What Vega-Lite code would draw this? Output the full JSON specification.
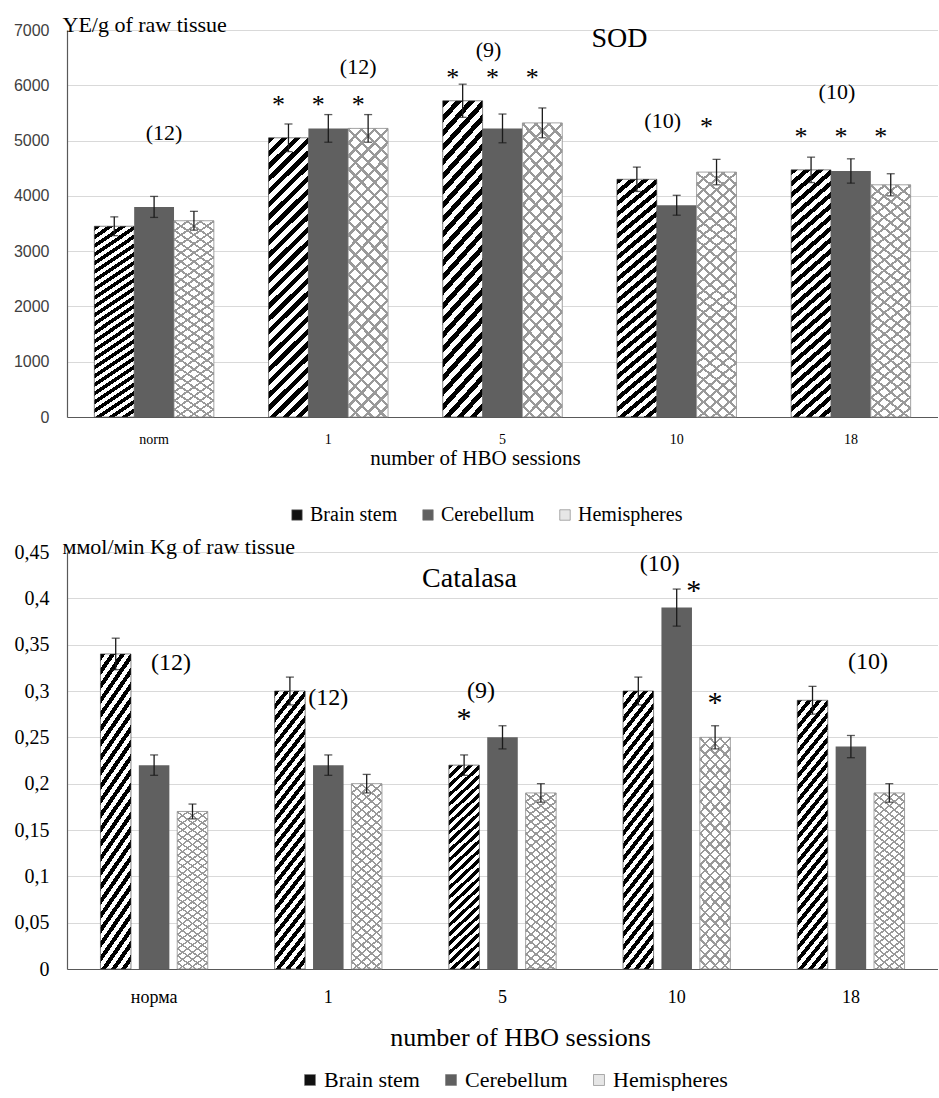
{
"$schema":"https://vega.github.io/schema/vega-lite/v6.json",
"background":"white",
"padding":{"left":7,"top":13,"right":0,"bottom":0},
"datasets":{
"sod":[
{"session":"norm","series":"Brain stem","value":3450,"lo":3280,"hi":3620},
{"session":"norm","series":"Cerebellum","value":3800,"lo":3610,"hi":3990},
{"session":"norm","series":"Hemispheres","value":3550,"lo":3380,"hi":3720},
{"session":"1","series":"Brain stem","value":5050,"lo":4800,"hi":5300},
{"session":"1","series":"Cerebellum","value":5220,"lo":4970,"hi":5470},
{"session":"1","series":"Hemispheres","value":5220,"lo":4970,"hi":5470},
{"session":"5","series":"Brain stem","value":5720,"lo":5420,"hi":6020},
{"session":"5","series":"Cerebellum","value":5220,"lo":4960,"hi":5480},
{"session":"5","series":"Hemispheres","value":5320,"lo":5050,"hi":5590},
{"session":"10","series":"Brain stem","value":4300,"lo":4080,"hi":4520},
{"session":"10","series":"Cerebellum","value":3830,"lo":3650,"hi":4010},
{"session":"10","series":"Hemispheres","value":4430,"lo":4200,"hi":4660},
{"session":"18","series":"Brain stem","value":4470,"lo":4240,"hi":4700},
{"session":"18","series":"Cerebellum","value":4450,"lo":4230,"hi":4670},
{"session":"18","series":"Hemispheres","value":4200,"lo":4000,"hi":4400}
],
"cat":[
{"session":"норма","series":"Brain stem","value":0.34,"lo":0.323,"hi":0.357},
{"session":"норма","series":"Cerebellum","value":0.22,"lo":0.209,"hi":0.231},
{"session":"норма","series":"Hemispheres","value":0.17,"lo":0.162,"hi":0.178},
{"session":"1","series":"Brain stem","value":0.30,"lo":0.285,"hi":0.315},
{"session":"1","series":"Cerebellum","value":0.22,"lo":0.209,"hi":0.231},
{"session":"1","series":"Hemispheres","value":0.20,"lo":0.19,"hi":0.21},
{"session":"5","series":"Brain stem","value":0.22,"lo":0.209,"hi":0.231},
{"session":"5","series":"Cerebellum","value":0.25,"lo":0.2375,"hi":0.2625},
{"session":"5","series":"Hemispheres","value":0.19,"lo":0.18,"hi":0.20},
{"session":"10","series":"Brain stem","value":0.30,"lo":0.285,"hi":0.315},
{"session":"10","series":"Cerebellum","value":0.39,"lo":0.37,"hi":0.41},
{"session":"10","series":"Hemispheres","value":0.25,"lo":0.2375,"hi":0.2625},
{"session":"18","series":"Brain stem","value":0.29,"lo":0.275,"hi":0.305},
{"session":"18","series":"Cerebellum","value":0.24,"lo":0.228,"hi":0.252},
{"session":"18","series":"Hemispheres","value":0.19,"lo":0.18,"hi":0.20}
],
"sodA":[
{"session":"1","over":"Brain stem","y":5640,"label":"*"},
{"session":"1","over":"Cerebellum","y":5640,"label":"*"},
{"session":"1","over":"Hemispheres","y":5640,"label":"*"},
{"session":"5","over":"Brain stem","y":6130,"label":"*"},
{"session":"5","over":"Cerebellum","y":6130,"label":"*"},
{"session":"5","over":"Hemispheres","y":6130,"label":"*"},
{"session":"10","over":"Hemispheres","y":5240,"label":"*"},
{"session":"18","over":"Brain stem","y":5060,"label":"*"},
{"session":"18","over":"Cerebellum","y":5060,"label":"*"},
{"session":"18","over":"Hemispheres","y":5060,"label":"*"},
{"session":"1","over":"Hemispheres","y":6330,"label":"(12)"}
],
"sodB":[
{"session":"norm","over":"Cerebellum","y":5135,"label":"(12)"}
],
"sodC":[
{"session":"5","over":"Cerebellum","y":6640,"label":"(9)"},
{"session":"10","over":"Cerebellum","y":5350,"label":"(10)"},
{"session":"18","over":"Cerebellum","y":5877,"label":"(10)"}
],
"catA":[
{"session":"1","over":"Cerebellum","y":0.292,"label":"(12)"},
{"session":"5","over":"Brain stem","y":0.27,"label":"*"},
{"session":"10","over":"Hemispheres","y":0.287,"label":"*"}
],
"catB":[
{"session":"норма","over":"Cerebellum","y":0.33,"label":"(12)"},
{"session":"10","over":"Cerebellum","y":0.408,"label":"*"},
{"session":"5","over":"Brain stem","y":0.30,"label":"(9)"},
{"session":"18","over":"Cerebellum","y":0.331,"label":"(10)"}
],
"catC":[
{"session":"10","over":"Cerebellum","y":0.4375,"label":"(10)"}
]
},
"vconcat":[
{
"width":871,"height":387,
"data":{"name":"sod"},
"title":{"text":"SOD","font":"Liberation Serif, serif","fontSize":28,"fontWeight":"normal","color":"#000","anchor":"middle","frame":"group","offset":-62,"dx":117,"baseline":"alphabetic"},
"encoding":{
"x":{"field":"session","type":"nominal","scale":{"domain":["norm","1","5","10","18"],"paddingInner":0.314,"paddingOuter":0.157},
"axis":{"title":"number of HBO sessions","titleFont":"Liberation Serif, serif","titleFontSize":21,"titleFontWeight":"normal","titleColor":"#000","titleX":408,"titleY":41,"titleBaseline":"middle","titleAlign":"center","labelFont":"Liberation Serif, serif","labelFontSize":14,"labelColor":"#000","labelAngle":0,"labelPadding":15,"ticks":false,"domainColor":"#595959","domainWidth":1.2,"grid":false}},
"xOffset":{"field":"series","type":"nominal","scale":{"domain":["Brain stem","Cerebellum","Hemispheres"],"paddingInner":0,"paddingOuter":0}}
},
"layer":[
{"transform":[{"filter":"datum.series==='Brain stem'"}],
"mark":{"type":"bar","stroke":"#333","strokeWidth":0.6,"fill":{"gradient":"linear","x1":0,"y1":0,"x2":0.1565,"y2":1.118,"stops":[
{"offset":0,"color":"#000"},{"offset":0.02,"color":"#000"},{"offset":0.02,"color":"#fff"},{"offset":0.04,"color":"#fff"},
{"offset":0.04,"color":"#000"},{"offset":0.06,"color":"#000"},{"offset":0.06,"color":"#fff"},{"offset":0.08,"color":"#fff"},
{"offset":0.08,"color":"#000"},{"offset":0.10,"color":"#000"},{"offset":0.10,"color":"#fff"},{"offset":0.12,"color":"#fff"},
{"offset":0.12,"color":"#000"},{"offset":0.14,"color":"#000"},{"offset":0.14,"color":"#fff"},{"offset":0.16,"color":"#fff"},
{"offset":0.16,"color":"#000"},{"offset":0.18,"color":"#000"},{"offset":0.18,"color":"#fff"},{"offset":0.20,"color":"#fff"},
{"offset":0.20,"color":"#000"},{"offset":0.22,"color":"#000"},{"offset":0.22,"color":"#fff"},{"offset":0.24,"color":"#fff"},
{"offset":0.24,"color":"#000"},{"offset":0.26,"color":"#000"},{"offset":0.26,"color":"#fff"},{"offset":0.28,"color":"#fff"},
{"offset":0.28,"color":"#000"},{"offset":0.30,"color":"#000"},{"offset":0.30,"color":"#fff"},{"offset":0.32,"color":"#fff"},
{"offset":0.32,"color":"#000"},{"offset":0.34,"color":"#000"},{"offset":0.34,"color":"#fff"},{"offset":0.36,"color":"#fff"},
{"offset":0.36,"color":"#000"},{"offset":0.38,"color":"#000"},{"offset":0.38,"color":"#fff"},{"offset":0.40,"color":"#fff"},
{"offset":0.40,"color":"#000"},{"offset":0.42,"color":"#000"},{"offset":0.42,"color":"#fff"},{"offset":0.44,"color":"#fff"},
{"offset":0.44,"color":"#000"},{"offset":0.46,"color":"#000"},{"offset":0.46,"color":"#fff"},{"offset":0.48,"color":"#fff"},
{"offset":0.48,"color":"#000"},{"offset":0.50,"color":"#000"},{"offset":0.50,"color":"#fff"},{"offset":0.52,"color":"#fff"},
{"offset":0.52,"color":"#000"},{"offset":0.54,"color":"#000"},{"offset":0.54,"color":"#fff"},{"offset":0.56,"color":"#fff"},
{"offset":0.56,"color":"#000"},{"offset":0.58,"color":"#000"},{"offset":0.58,"color":"#fff"},{"offset":0.60,"color":"#fff"},
{"offset":0.60,"color":"#000"},{"offset":0.62,"color":"#000"},{"offset":0.62,"color":"#fff"},{"offset":0.64,"color":"#fff"},
{"offset":0.64,"color":"#000"},{"offset":0.66,"color":"#000"},{"offset":0.66,"color":"#fff"},{"offset":0.68,"color":"#fff"},
{"offset":0.68,"color":"#000"},{"offset":0.70,"color":"#000"},{"offset":0.70,"color":"#fff"},{"offset":0.72,"color":"#fff"},
{"offset":0.72,"color":"#000"},{"offset":0.74,"color":"#000"},{"offset":0.74,"color":"#fff"},{"offset":0.76,"color":"#fff"},
{"offset":0.76,"color":"#000"},{"offset":0.78,"color":"#000"},{"offset":0.78,"color":"#fff"},{"offset":0.80,"color":"#fff"},
{"offset":0.80,"color":"#000"},{"offset":0.82,"color":"#000"},{"offset":0.82,"color":"#fff"},{"offset":0.84,"color":"#fff"},
{"offset":0.84,"color":"#000"},{"offset":0.86,"color":"#000"},{"offset":0.86,"color":"#fff"},{"offset":0.88,"color":"#fff"},
{"offset":0.88,"color":"#000"},{"offset":0.90,"color":"#000"},{"offset":0.90,"color":"#fff"},{"offset":0.92,"color":"#fff"},
{"offset":0.92,"color":"#000"},{"offset":0.94,"color":"#000"},{"offset":0.94,"color":"#fff"},{"offset":0.96,"color":"#fff"},
{"offset":0.96,"color":"#000"},{"offset":0.98,"color":"#000"},{"offset":0.98,"color":"#fff"},{"offset":1,"color":"#fff"}
]}},
"encoding":{"y":{"field":"value","type":"quantitative","scale":{"domain":[0,7000],"nice":false},
"axis":{"title":"YE/g of raw tissue","titleAngle":0,"titleAlign":"left","titleBaseline":"alphabetic","titleX":-5,"titleY":1,"titleFont":"Liberation Serif, serif","titleFontSize":22,"titleFontWeight":"normal","titleColor":"#000","values":[0,1000,2000,3000,4000,5000,6000,7000],"format":"d","labelFont":"Liberation Sans","labelFontSize":16,"labelColor":"#404040","labelPadding":18,"ticks":false,"domainColor":"#595959","domainWidth":1.2,"gridColor":"#d9d9d9","gridWidth":1,"minExtent":60,"maxExtent":60}}}},
{"transform":[{"filter":"datum.series==='Cerebellum'"}],"mark":{"type":"bar","fill":"#606060"},"encoding":{"y":{"field":"value","type":"quantitative"}}},
{"transform":[{"filter":"datum.series==='Hemispheres'"}],
"mark":{"type":"bar","stroke":"#8c8c8c","strokeWidth":0.8,"fill":{"gradient":"linear","x1":0,"y1":0,"x2":0.1565,"y2":1.118,"stops":[
{"offset":0,"color":"#999"},{"offset":0.01,"color":"#999"},{"offset":0.01,"color":"#fff"},{"offset":0.04,"color":"#fff"},
{"offset":0.04,"color":"#999"},{"offset":0.05,"color":"#999"},{"offset":0.05,"color":"#fff"},{"offset":0.08,"color":"#fff"},
{"offset":0.08,"color":"#999"},{"offset":0.09,"color":"#999"},{"offset":0.09,"color":"#fff"},{"offset":0.12,"color":"#fff"},
{"offset":0.12,"color":"#999"},{"offset":0.13,"color":"#999"},{"offset":0.13,"color":"#fff"},{"offset":0.16,"color":"#fff"},
{"offset":0.16,"color":"#999"},{"offset":0.17,"color":"#999"},{"offset":0.17,"color":"#fff"},{"offset":0.20,"color":"#fff"},
{"offset":0.20,"color":"#999"},{"offset":0.21,"color":"#999"},{"offset":0.21,"color":"#fff"},{"offset":0.24,"color":"#fff"},
{"offset":0.24,"color":"#999"},{"offset":0.25,"color":"#999"},{"offset":0.25,"color":"#fff"},{"offset":0.28,"color":"#fff"},
{"offset":0.28,"color":"#999"},{"offset":0.29,"color":"#999"},{"offset":0.29,"color":"#fff"},{"offset":0.32,"color":"#fff"},
{"offset":0.32,"color":"#999"},{"offset":0.33,"color":"#999"},{"offset":0.33,"color":"#fff"},{"offset":0.36,"color":"#fff"},
{"offset":0.36,"color":"#999"},{"offset":0.37,"color":"#999"},{"offset":0.37,"color":"#fff"},{"offset":0.40,"color":"#fff"},
{"offset":0.40,"color":"#999"},{"offset":0.41,"color":"#999"},{"offset":0.41,"color":"#fff"},{"offset":0.44,"color":"#fff"},
{"offset":0.44,"color":"#999"},{"offset":0.45,"color":"#999"},{"offset":0.45,"color":"#fff"},{"offset":0.48,"color":"#fff"},
{"offset":0.48,"color":"#999"},{"offset":0.49,"color":"#999"},{"offset":0.49,"color":"#fff"},{"offset":0.52,"color":"#fff"},
{"offset":0.52,"color":"#999"},{"offset":0.53,"color":"#999"},{"offset":0.53,"color":"#fff"},{"offset":0.56,"color":"#fff"},
{"offset":0.56,"color":"#999"},{"offset":0.57,"color":"#999"},{"offset":0.57,"color":"#fff"},{"offset":0.60,"color":"#fff"},
{"offset":0.60,"color":"#999"},{"offset":0.61,"color":"#999"},{"offset":0.61,"color":"#fff"},{"offset":0.64,"color":"#fff"},
{"offset":0.64,"color":"#999"},{"offset":0.65,"color":"#999"},{"offset":0.65,"color":"#fff"},{"offset":0.68,"color":"#fff"},
{"offset":0.68,"color":"#999"},{"offset":0.69,"color":"#999"},{"offset":0.69,"color":"#fff"},{"offset":0.72,"color":"#fff"},
{"offset":0.72,"color":"#999"},{"offset":0.73,"color":"#999"},{"offset":0.73,"color":"#fff"},{"offset":0.76,"color":"#fff"},
{"offset":0.76,"color":"#999"},{"offset":0.77,"color":"#999"},{"offset":0.77,"color":"#fff"},{"offset":0.80,"color":"#fff"},
{"offset":0.80,"color":"#999"},{"offset":0.81,"color":"#999"},{"offset":0.81,"color":"#fff"},{"offset":0.84,"color":"#fff"},
{"offset":0.84,"color":"#999"},{"offset":0.85,"color":"#999"},{"offset":0.85,"color":"#fff"},{"offset":0.88,"color":"#fff"},
{"offset":0.88,"color":"#999"},{"offset":0.89,"color":"#999"},{"offset":0.89,"color":"#fff"},{"offset":0.92,"color":"#fff"},
{"offset":0.92,"color":"#999"},{"offset":0.93,"color":"#999"},{"offset":0.93,"color":"#fff"},{"offset":0.96,"color":"#fff"},
{"offset":0.96,"color":"#999"},{"offset":0.97,"color":"#999"},{"offset":0.97,"color":"#fff"},{"offset":1,"color":"#fff"}
]}},
"encoding":{"y":{"field":"value","type":"quantitative"}}},
{"transform":[{"filter":"datum.series==='Hemispheres'"}],
"mark":{"type":"bar","fill":{"gradient":"linear","x1":1,"y1":0,"x2":0.8435,"y2":1.118,"stops":[
{"offset":0,"color":"#999"},{"offset":0.01,"color":"#999"},{"offset":0.01,"color":"rgba(255,255,255,0)"},{"offset":0.04,"color":"rgba(255,255,255,0)"},
{"offset":0.04,"color":"#999"},{"offset":0.05,"color":"#999"},{"offset":0.05,"color":"rgba(255,255,255,0)"},{"offset":0.08,"color":"rgba(255,255,255,0)"},
{"offset":0.08,"color":"#999"},{"offset":0.09,"color":"#999"},{"offset":0.09,"color":"rgba(255,255,255,0)"},{"offset":0.12,"color":"rgba(255,255,255,0)"},
{"offset":0.12,"color":"#999"},{"offset":0.13,"color":"#999"},{"offset":0.13,"color":"rgba(255,255,255,0)"},{"offset":0.16,"color":"rgba(255,255,255,0)"},
{"offset":0.16,"color":"#999"},{"offset":0.17,"color":"#999"},{"offset":0.17,"color":"rgba(255,255,255,0)"},{"offset":0.20,"color":"rgba(255,255,255,0)"},
{"offset":0.20,"color":"#999"},{"offset":0.21,"color":"#999"},{"offset":0.21,"color":"rgba(255,255,255,0)"},{"offset":0.24,"color":"rgba(255,255,255,0)"},
{"offset":0.24,"color":"#999"},{"offset":0.25,"color":"#999"},{"offset":0.25,"color":"rgba(255,255,255,0)"},{"offset":0.28,"color":"rgba(255,255,255,0)"},
{"offset":0.28,"color":"#999"},{"offset":0.29,"color":"#999"},{"offset":0.29,"color":"rgba(255,255,255,0)"},{"offset":0.32,"color":"rgba(255,255,255,0)"},
{"offset":0.32,"color":"#999"},{"offset":0.33,"color":"#999"},{"offset":0.33,"color":"rgba(255,255,255,0)"},{"offset":0.36,"color":"rgba(255,255,255,0)"},
{"offset":0.36,"color":"#999"},{"offset":0.37,"color":"#999"},{"offset":0.37,"color":"rgba(255,255,255,0)"},{"offset":0.40,"color":"rgba(255,255,255,0)"},
{"offset":0.40,"color":"#999"},{"offset":0.41,"color":"#999"},{"offset":0.41,"color":"rgba(255,255,255,0)"},{"offset":0.44,"color":"rgba(255,255,255,0)"},
{"offset":0.44,"color":"#999"},{"offset":0.45,"color":"#999"},{"offset":0.45,"color":"rgba(255,255,255,0)"},{"offset":0.48,"color":"rgba(255,255,255,0)"},
{"offset":0.48,"color":"#999"},{"offset":0.49,"color":"#999"},{"offset":0.49,"color":"rgba(255,255,255,0)"},{"offset":0.52,"color":"rgba(255,255,255,0)"},
{"offset":0.52,"color":"#999"},{"offset":0.53,"color":"#999"},{"offset":0.53,"color":"rgba(255,255,255,0)"},{"offset":0.56,"color":"rgba(255,255,255,0)"},
{"offset":0.56,"color":"#999"},{"offset":0.57,"color":"#999"},{"offset":0.57,"color":"rgba(255,255,255,0)"},{"offset":0.60,"color":"rgba(255,255,255,0)"},
{"offset":0.60,"color":"#999"},{"offset":0.61,"color":"#999"},{"offset":0.61,"color":"rgba(255,255,255,0)"},{"offset":0.64,"color":"rgba(255,255,255,0)"},
{"offset":0.64,"color":"#999"},{"offset":0.65,"color":"#999"},{"offset":0.65,"color":"rgba(255,255,255,0)"},{"offset":0.68,"color":"rgba(255,255,255,0)"},
{"offset":0.68,"color":"#999"},{"offset":0.69,"color":"#999"},{"offset":0.69,"color":"rgba(255,255,255,0)"},{"offset":0.72,"color":"rgba(255,255,255,0)"},
{"offset":0.72,"color":"#999"},{"offset":0.73,"color":"#999"},{"offset":0.73,"color":"rgba(255,255,255,0)"},{"offset":0.76,"color":"rgba(255,255,255,0)"},
{"offset":0.76,"color":"#999"},{"offset":0.77,"color":"#999"},{"offset":0.77,"color":"rgba(255,255,255,0)"},{"offset":0.80,"color":"rgba(255,255,255,0)"},
{"offset":0.80,"color":"#999"},{"offset":0.81,"color":"#999"},{"offset":0.81,"color":"rgba(255,255,255,0)"},{"offset":0.84,"color":"rgba(255,255,255,0)"},
{"offset":0.84,"color":"#999"},{"offset":0.85,"color":"#999"},{"offset":0.85,"color":"rgba(255,255,255,0)"},{"offset":0.88,"color":"rgba(255,255,255,0)"},
{"offset":0.88,"color":"#999"},{"offset":0.89,"color":"#999"},{"offset":0.89,"color":"rgba(255,255,255,0)"},{"offset":0.92,"color":"rgba(255,255,255,0)"},
{"offset":0.92,"color":"#999"},{"offset":0.93,"color":"#999"},{"offset":0.93,"color":"rgba(255,255,255,0)"},{"offset":0.96,"color":"rgba(255,255,255,0)"},
{"offset":0.96,"color":"#999"},{"offset":0.97,"color":"#999"},{"offset":0.97,"color":"rgba(255,255,255,0)"},{"offset":1,"color":"rgba(255,255,255,0)"}
]}},
"encoding":{"y":{"field":"value","type":"quantitative"}}},
{"mark":{"type":"rule","color":"#1a1a1a","strokeWidth":1.3},"encoding":{"y":{"field":"lo","type":"quantitative"},"y2":{"field":"hi"}}},
{"mark":{"type":"tick","color":"#1a1a1a","thickness":1.3,"size":8},"encoding":{"y":{"field":"lo","type":"quantitative"}}},
{"mark":{"type":"tick","color":"#1a1a1a","thickness":1.3,"size":8},"encoding":{"y":{"field":"hi","type":"quantitative"}}},
{"data":{"name":"sodA"},"mark":{"type":"text","font":"Liberation Serif, serif","color":"#000","baseline":"middle","dx":-10},
"encoding":{"xOffset":{"field":"over","type":"nominal"},"y":{"field":"y","type":"quantitative"},"text":{"field":"label"},"size":{"condition":{"test":"datum.label==='*'","value":26},"value":22}}},
{"data":{"name":"sodB"},"mark":{"type":"text","font":"Liberation Serif, serif","fontSize":22,"color":"#000","baseline":"middle","dx":10},
"encoding":{"xOffset":{"field":"over","type":"nominal"},"y":{"field":"y","type":"quantitative"},"text":{"field":"label"}}},
{"data":{"name":"sodC"},"mark":{"type":"text","font":"Liberation Serif, serif","fontSize":22,"color":"#000","baseline":"middle","dx":-14},
"encoding":{"xOffset":{"field":"over","type":"nominal"},"y":{"field":"y","type":"quantitative"},"text":{"field":"label"}}},
{"mark":{"type":"square","opacity":0},"encoding":{"y":{"field":"value","type":"quantitative"},
"color":{"field":"series","type":"nominal","scale":{"domain":["Brain stem","Cerebellum","Hemispheres"],"range":["#111111","#606060","#e6e6e6"]},
"legend":{"orient":"none","legendX":220,"legendY":475,"direction":"horizontal","title":null,"symbolType":"square","symbolSize":110,"symbolOpacity":1,"symbolStrokeColor":"#777","symbolStrokeWidth":0.6,"labelFont":"Liberation Serif, serif","labelFontSize":20,"labelColor":"#000","columnPadding":20,"labelOffset":3}}}}
]
},
{
"width":871,"height":417,
"data":{"name":"cat"},
"title":{"text":"Catalasa","font":"Liberation Serif, serif","fontSize":28,"fontWeight":"normal","color":"#000","anchor":"middle","frame":"group","offset":-80,"dx":-33,"baseline":"alphabetic"},
"encoding":{
"x":{"field":"session","type":"nominal","scale":{"domain":["норма","1","5","10","18"],"paddingInner":0.384,"paddingOuter":0.192},
"axis":{"title":"number of HBO sessions","titleFont":"Liberation Serif, serif","titleFontSize":26,"titleFontWeight":"normal","titleColor":"#000","titleX":453,"titleY":68,"titleBaseline":"middle","titleAlign":"center","labelFont":"Liberation Serif, serif","labelFontSize":18,"labelColor":"#000","labelAngle":0,"labelPadding":19,"ticks":false,"domainColor":"#595959","domainWidth":1.2,"grid":false}},
"xOffset":{"field":"series","type":"nominal","scale":{"domain":["Brain stem","Cerebellum","Hemispheres"],"paddingInner":0.205,"paddingOuter":0}}
},
"layer":[
{"transform":[{"filter":"datum.series==='Brain stem'"}],
"mark":{"type":"bar","stroke":"#333","strokeWidth":0.6,"fill":{"gradient":"linear","x1":0,"y1":0,"x2":0.1565,"y2":1.118,"stops":[
{"offset":0,"color":"#000"},{"offset":0.02,"color":"#000"},{"offset":0.02,"color":"#fff"},{"offset":0.04,"color":"#fff"},
{"offset":0.04,"color":"#000"},{"offset":0.06,"color":"#000"},{"offset":0.06,"color":"#fff"},{"offset":0.08,"color":"#fff"},
{"offset":0.08,"color":"#000"},{"offset":0.10,"color":"#000"},{"offset":0.10,"color":"#fff"},{"offset":0.12,"color":"#fff"},
{"offset":0.12,"color":"#000"},{"offset":0.14,"color":"#000"},{"offset":0.14,"color":"#fff"},{"offset":0.16,"color":"#fff"},
{"offset":0.16,"color":"#000"},{"offset":0.18,"color":"#000"},{"offset":0.18,"color":"#fff"},{"offset":0.20,"color":"#fff"},
{"offset":0.20,"color":"#000"},{"offset":0.22,"color":"#000"},{"offset":0.22,"color":"#fff"},{"offset":0.24,"color":"#fff"},
{"offset":0.24,"color":"#000"},{"offset":0.26,"color":"#000"},{"offset":0.26,"color":"#fff"},{"offset":0.28,"color":"#fff"},
{"offset":0.28,"color":"#000"},{"offset":0.30,"color":"#000"},{"offset":0.30,"color":"#fff"},{"offset":0.32,"color":"#fff"},
{"offset":0.32,"color":"#000"},{"offset":0.34,"color":"#000"},{"offset":0.34,"color":"#fff"},{"offset":0.36,"color":"#fff"},
{"offset":0.36,"color":"#000"},{"offset":0.38,"color":"#000"},{"offset":0.38,"color":"#fff"},{"offset":0.40,"color":"#fff"},
{"offset":0.40,"color":"#000"},{"offset":0.42,"color":"#000"},{"offset":0.42,"color":"#fff"},{"offset":0.44,"color":"#fff"},
{"offset":0.44,"color":"#000"},{"offset":0.46,"color":"#000"},{"offset":0.46,"color":"#fff"},{"offset":0.48,"color":"#fff"},
{"offset":0.48,"color":"#000"},{"offset":0.50,"color":"#000"},{"offset":0.50,"color":"#fff"},{"offset":0.52,"color":"#fff"},
{"offset":0.52,"color":"#000"},{"offset":0.54,"color":"#000"},{"offset":0.54,"color":"#fff"},{"offset":0.56,"color":"#fff"},
{"offset":0.56,"color":"#000"},{"offset":0.58,"color":"#000"},{"offset":0.58,"color":"#fff"},{"offset":0.60,"color":"#fff"},
{"offset":0.60,"color":"#000"},{"offset":0.62,"color":"#000"},{"offset":0.62,"color":"#fff"},{"offset":0.64,"color":"#fff"},
{"offset":0.64,"color":"#000"},{"offset":0.66,"color":"#000"},{"offset":0.66,"color":"#fff"},{"offset":0.68,"color":"#fff"},
{"offset":0.68,"color":"#000"},{"offset":0.70,"color":"#000"},{"offset":0.70,"color":"#fff"},{"offset":0.72,"color":"#fff"},
{"offset":0.72,"color":"#000"},{"offset":0.74,"color":"#000"},{"offset":0.74,"color":"#fff"},{"offset":0.76,"color":"#fff"},
{"offset":0.76,"color":"#000"},{"offset":0.78,"color":"#000"},{"offset":0.78,"color":"#fff"},{"offset":0.80,"color":"#fff"},
{"offset":0.80,"color":"#000"},{"offset":0.82,"color":"#000"},{"offset":0.82,"color":"#fff"},{"offset":0.84,"color":"#fff"},
{"offset":0.84,"color":"#000"},{"offset":0.86,"color":"#000"},{"offset":0.86,"color":"#fff"},{"offset":0.88,"color":"#fff"},
{"offset":0.88,"color":"#000"},{"offset":0.90,"color":"#000"},{"offset":0.90,"color":"#fff"},{"offset":0.92,"color":"#fff"},
{"offset":0.92,"color":"#000"},{"offset":0.94,"color":"#000"},{"offset":0.94,"color":"#fff"},{"offset":0.96,"color":"#fff"},
{"offset":0.96,"color":"#000"},{"offset":0.98,"color":"#000"},{"offset":0.98,"color":"#fff"},{"offset":1,"color":"#fff"}
]}},
"encoding":{"y":{"field":"value","type":"quantitative","scale":{"domain":[0,0.45],"nice":false},
"axis":{"title":"ммol/мin Kg of raw tissue","titleAngle":0,"titleAlign":"left","titleBaseline":"alphabetic","titleX":-5,"titleY":1,"titleFont":"Liberation Serif, serif","titleFontSize":22,"titleFontWeight":"normal","titleColor":"#000","values":[0,0.05,0.1,0.15,0.2,0.25,0.3,0.35,0.4,0.45],"labelExpr":"replace(format(datum.value, '.2~f'), '.', ',')","labelFont":"Liberation Serif, serif","labelFontSize":20,"labelColor":"#000","labelPadding":18,"ticks":false,"domainColor":"#595959","domainWidth":1.2,"gridColor":"#d9d9d9","gridWidth":1,"minExtent":60,"maxExtent":60}}}},
{"transform":[{"filter":"datum.series==='Cerebellum'"}],"mark":{"type":"bar","fill":"#606060"},"encoding":{"y":{"field":"value","type":"quantitative"}}},
{"transform":[{"filter":"datum.series==='Hemispheres'"}],
"mark":{"type":"bar","stroke":"#8c8c8c","strokeWidth":0.8,"fill":{"gradient":"linear","x1":0,"y1":0,"x2":0.1565,"y2":1.118,"stops":[
{"offset":0,"color":"#999"},{"offset":0.01,"color":"#999"},{"offset":0.01,"color":"#fff"},{"offset":0.04,"color":"#fff"},
{"offset":0.04,"color":"#999"},{"offset":0.05,"color":"#999"},{"offset":0.05,"color":"#fff"},{"offset":0.08,"color":"#fff"},
{"offset":0.08,"color":"#999"},{"offset":0.09,"color":"#999"},{"offset":0.09,"color":"#fff"},{"offset":0.12,"color":"#fff"},
{"offset":0.12,"color":"#999"},{"offset":0.13,"color":"#999"},{"offset":0.13,"color":"#fff"},{"offset":0.16,"color":"#fff"},
{"offset":0.16,"color":"#999"},{"offset":0.17,"color":"#999"},{"offset":0.17,"color":"#fff"},{"offset":0.20,"color":"#fff"},
{"offset":0.20,"color":"#999"},{"offset":0.21,"color":"#999"},{"offset":0.21,"color":"#fff"},{"offset":0.24,"color":"#fff"},
{"offset":0.24,"color":"#999"},{"offset":0.25,"color":"#999"},{"offset":0.25,"color":"#fff"},{"offset":0.28,"color":"#fff"},
{"offset":0.28,"color":"#999"},{"offset":0.29,"color":"#999"},{"offset":0.29,"color":"#fff"},{"offset":0.32,"color":"#fff"},
{"offset":0.32,"color":"#999"},{"offset":0.33,"color":"#999"},{"offset":0.33,"color":"#fff"},{"offset":0.36,"color":"#fff"},
{"offset":0.36,"color":"#999"},{"offset":0.37,"color":"#999"},{"offset":0.37,"color":"#fff"},{"offset":0.40,"color":"#fff"},
{"offset":0.40,"color":"#999"},{"offset":0.41,"color":"#999"},{"offset":0.41,"color":"#fff"},{"offset":0.44,"color":"#fff"},
{"offset":0.44,"color":"#999"},{"offset":0.45,"color":"#999"},{"offset":0.45,"color":"#fff"},{"offset":0.48,"color":"#fff"},
{"offset":0.48,"color":"#999"},{"offset":0.49,"color":"#999"},{"offset":0.49,"color":"#fff"},{"offset":0.52,"color":"#fff"},
{"offset":0.52,"color":"#999"},{"offset":0.53,"color":"#999"},{"offset":0.53,"color":"#fff"},{"offset":0.56,"color":"#fff"},
{"offset":0.56,"color":"#999"},{"offset":0.57,"color":"#999"},{"offset":0.57,"color":"#fff"},{"offset":0.60,"color":"#fff"},
{"offset":0.60,"color":"#999"},{"offset":0.61,"color":"#999"},{"offset":0.61,"color":"#fff"},{"offset":0.64,"color":"#fff"},
{"offset":0.64,"color":"#999"},{"offset":0.65,"color":"#999"},{"offset":0.65,"color":"#fff"},{"offset":0.68,"color":"#fff"},
{"offset":0.68,"color":"#999"},{"offset":0.69,"color":"#999"},{"offset":0.69,"color":"#fff"},{"offset":0.72,"color":"#fff"},
{"offset":0.72,"color":"#999"},{"offset":0.73,"color":"#999"},{"offset":0.73,"color":"#fff"},{"offset":0.76,"color":"#fff"},
{"offset":0.76,"color":"#999"},{"offset":0.77,"color":"#999"},{"offset":0.77,"color":"#fff"},{"offset":0.80,"color":"#fff"},
{"offset":0.80,"color":"#999"},{"offset":0.81,"color":"#999"},{"offset":0.81,"color":"#fff"},{"offset":0.84,"color":"#fff"},
{"offset":0.84,"color":"#999"},{"offset":0.85,"color":"#999"},{"offset":0.85,"color":"#fff"},{"offset":0.88,"color":"#fff"},
{"offset":0.88,"color":"#999"},{"offset":0.89,"color":"#999"},{"offset":0.89,"color":"#fff"},{"offset":0.92,"color":"#fff"},
{"offset":0.92,"color":"#999"},{"offset":0.93,"color":"#999"},{"offset":0.93,"color":"#fff"},{"offset":0.96,"color":"#fff"},
{"offset":0.96,"color":"#999"},{"offset":0.97,"color":"#999"},{"offset":0.97,"color":"#fff"},{"offset":1,"color":"#fff"}
]}},
"encoding":{"y":{"field":"value","type":"quantitative"}}},
{"transform":[{"filter":"datum.series==='Hemispheres'"}],
"mark":{"type":"bar","fill":{"gradient":"linear","x1":1,"y1":0,"x2":0.8435,"y2":1.118,"stops":[
{"offset":0,"color":"#999"},{"offset":0.01,"color":"#999"},{"offset":0.01,"color":"rgba(255,255,255,0)"},{"offset":0.04,"color":"rgba(255,255,255,0)"},
{"offset":0.04,"color":"#999"},{"offset":0.05,"color":"#999"},{"offset":0.05,"color":"rgba(255,255,255,0)"},{"offset":0.08,"color":"rgba(255,255,255,0)"},
{"offset":0.08,"color":"#999"},{"offset":0.09,"color":"#999"},{"offset":0.09,"color":"rgba(255,255,255,0)"},{"offset":0.12,"color":"rgba(255,255,255,0)"},
{"offset":0.12,"color":"#999"},{"offset":0.13,"color":"#999"},{"offset":0.13,"color":"rgba(255,255,255,0)"},{"offset":0.16,"color":"rgba(255,255,255,0)"},
{"offset":0.16,"color":"#999"},{"offset":0.17,"color":"#999"},{"offset":0.17,"color":"rgba(255,255,255,0)"},{"offset":0.20,"color":"rgba(255,255,255,0)"},
{"offset":0.20,"color":"#999"},{"offset":0.21,"color":"#999"},{"offset":0.21,"color":"rgba(255,255,255,0)"},{"offset":0.24,"color":"rgba(255,255,255,0)"},
{"offset":0.24,"color":"#999"},{"offset":0.25,"color":"#999"},{"offset":0.25,"color":"rgba(255,255,255,0)"},{"offset":0.28,"color":"rgba(255,255,255,0)"},
{"offset":0.28,"color":"#999"},{"offset":0.29,"color":"#999"},{"offset":0.29,"color":"rgba(255,255,255,0)"},{"offset":0.32,"color":"rgba(255,255,255,0)"},
{"offset":0.32,"color":"#999"},{"offset":0.33,"color":"#999"},{"offset":0.33,"color":"rgba(255,255,255,0)"},{"offset":0.36,"color":"rgba(255,255,255,0)"},
{"offset":0.36,"color":"#999"},{"offset":0.37,"color":"#999"},{"offset":0.37,"color":"rgba(255,255,255,0)"},{"offset":0.40,"color":"rgba(255,255,255,0)"},
{"offset":0.40,"color":"#999"},{"offset":0.41,"color":"#999"},{"offset":0.41,"color":"rgba(255,255,255,0)"},{"offset":0.44,"color":"rgba(255,255,255,0)"},
{"offset":0.44,"color":"#999"},{"offset":0.45,"color":"#999"},{"offset":0.45,"color":"rgba(255,255,255,0)"},{"offset":0.48,"color":"rgba(255,255,255,0)"},
{"offset":0.48,"color":"#999"},{"offset":0.49,"color":"#999"},{"offset":0.49,"color":"rgba(255,255,255,0)"},{"offset":0.52,"color":"rgba(255,255,255,0)"},
{"offset":0.52,"color":"#999"},{"offset":0.53,"color":"#999"},{"offset":0.53,"color":"rgba(255,255,255,0)"},{"offset":0.56,"color":"rgba(255,255,255,0)"},
{"offset":0.56,"color":"#999"},{"offset":0.57,"color":"#999"},{"offset":0.57,"color":"rgba(255,255,255,0)"},{"offset":0.60,"color":"rgba(255,255,255,0)"},
{"offset":0.60,"color":"#999"},{"offset":0.61,"color":"#999"},{"offset":0.61,"color":"rgba(255,255,255,0)"},{"offset":0.64,"color":"rgba(255,255,255,0)"},
{"offset":0.64,"color":"#999"},{"offset":0.65,"color":"#999"},{"offset":0.65,"color":"rgba(255,255,255,0)"},{"offset":0.68,"color":"rgba(255,255,255,0)"},
{"offset":0.68,"color":"#999"},{"offset":0.69,"color":"#999"},{"offset":0.69,"color":"rgba(255,255,255,0)"},{"offset":0.72,"color":"rgba(255,255,255,0)"},
{"offset":0.72,"color":"#999"},{"offset":0.73,"color":"#999"},{"offset":0.73,"color":"rgba(255,255,255,0)"},{"offset":0.76,"color":"rgba(255,255,255,0)"},
{"offset":0.76,"color":"#999"},{"offset":0.77,"color":"#999"},{"offset":0.77,"color":"rgba(255,255,255,0)"},{"offset":0.80,"color":"rgba(255,255,255,0)"},
{"offset":0.80,"color":"#999"},{"offset":0.81,"color":"#999"},{"offset":0.81,"color":"rgba(255,255,255,0)"},{"offset":0.84,"color":"rgba(255,255,255,0)"},
{"offset":0.84,"color":"#999"},{"offset":0.85,"color":"#999"},{"offset":0.85,"color":"rgba(255,255,255,0)"},{"offset":0.88,"color":"rgba(255,255,255,0)"},
{"offset":0.88,"color":"#999"},{"offset":0.89,"color":"#999"},{"offset":0.89,"color":"rgba(255,255,255,0)"},{"offset":0.92,"color":"rgba(255,255,255,0)"},
{"offset":0.92,"color":"#999"},{"offset":0.93,"color":"#999"},{"offset":0.93,"color":"rgba(255,255,255,0)"},{"offset":0.96,"color":"rgba(255,255,255,0)"},
{"offset":0.96,"color":"#999"},{"offset":0.97,"color":"#999"},{"offset":0.97,"color":"rgba(255,255,255,0)"},{"offset":1,"color":"rgba(255,255,255,0)"}
]}},
"encoding":{"y":{"field":"value","type":"quantitative"}}},
{"mark":{"type":"rule","color":"#1a1a1a","strokeWidth":1.3},"encoding":{"y":{"field":"lo","type":"quantitative"},"y2":{"field":"hi"}}},
{"mark":{"type":"tick","color":"#1a1a1a","thickness":1.3,"size":8},"encoding":{"y":{"field":"lo","type":"quantitative"}}},
{"mark":{"type":"tick","color":"#1a1a1a","thickness":1.3,"size":8},"encoding":{"y":{"field":"hi","type":"quantitative"}}},
{"data":{"name":"catA"},"mark":{"type":"text","font":"Liberation Serif, serif","color":"#000","baseline":"middle","dx":0},
"encoding":{"xOffset":{"field":"over","type":"nominal"},"y":{"field":"y","type":"quantitative"},"text":{"field":"label"},"size":{"condition":{"test":"datum.label==='*'","value":30},"value":24}}},
{"data":{"name":"catB"},"mark":{"type":"text","font":"Liberation Serif, serif","color":"#000","baseline":"middle","dx":17},
"encoding":{"xOffset":{"field":"over","type":"nominal"},"y":{"field":"y","type":"quantitative"},"text":{"field":"label"},"size":{"condition":{"test":"datum.label==='*'","value":30},"value":24}}},
{"data":{"name":"catC"},"mark":{"type":"text","font":"Liberation Serif, serif","fontSize":24,"color":"#000","baseline":"middle","dx":-17},
"encoding":{"xOffset":{"field":"over","type":"nominal"},"y":{"field":"y","type":"quantitative"},"text":{"field":"label"}}},
{"mark":{"type":"square","opacity":0},"encoding":{"y":{"field":"value","type":"quantitative"},
"color":{"field":"series","type":"nominal","scale":{"domain":["Brain stem","Cerebellum","Hemispheres"],"range":["#111111","#606060","#e6e6e6"]},
"legend":{"orient":"none","legendX":232,"legendY":517,"direction":"horizontal","title":null,"symbolType":"square","symbolSize":120,"symbolOpacity":1,"symbolStrokeColor":"#777","symbolStrokeWidth":0.6,"labelFont":"Liberation Serif, serif","labelFontSize":22,"labelColor":"#000","columnPadding":20,"labelOffset":3}}}}
]
}
],
"spacing":10,
"resolve":{"scale":{"x":"independent","y":"independent","xOffset":"independent","color":"independent"},"legend":{"color":"independent"},"axis":{"x":"independent","y":"independent"}},
"config":{"view":{"stroke":null},"font":"Liberation Serif, serif"}
}
